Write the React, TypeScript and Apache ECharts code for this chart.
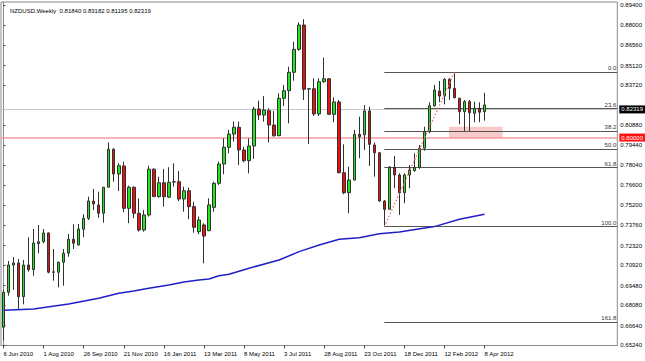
import React, { useEffect, useRef } from "react";
import * as echarts from "echarts";

const TITLE = "NZDUSD,Weekly  0.81840 0.83182 0.81195 0.82319";
const START_UTC = Date.UTC(2010, 5, 6);
const N_SLOTS = 123;
const MONTHS = ["Jan","Feb","Mar","Apr","May","Jun","Jul","Aug","Sep","Oct","Nov","Dec"];
const DATE_LABELS = ["6 Jun 2010","1 Aug 2010","26 Sep 2010","21 Nov 2010","16 Jan 2011","13 Mar 2011","8 May 2011","3 Jul 2011","28 Aug 2011","23 Oct 2011","18 Dec 2011","12 Feb 2012","8 Apr 2012"];
const PRICE_TICKS = [0.894,0.88,0.8656,0.8512,0.8372,0.8088,0.7944,0.7804,0.766,0.752,0.7376,0.7232,0.7092,0.6948,0.6808,0.6664,0.6524];

const OPEN = [0.6652,0.6900,0.7094,0.7109,0.6869,0.7094,0.7061,0.7246,0.7260,0.7322,0.7043,0.7043,0.7114,0.7178,0.7277,0.7237,0.7348,0.7426,0.7549,0.7521,0.7462,0.7647,0.7917,0.7741,0.7798,0.7497,0.7647,0.7462,0.7343,0.7450,0.7775,0.7580,0.7679,0.7576,0.7684,0.7686,0.7563,0.7622,0.7509,0.7331,0.7379,0.7338,0.7504,0.7675,0.7812,0.7931,0.8025,0.8073,0.7912,0.7836,0.7940,0.8203,0.8160,0.8191,0.8089,0.8013,0.8279,0.8333,0.8464,0.8627,0.8800,0.8345,0.8347,0.8168,0.8397,0.8418,0.8165,0.8253,0.7750,0.7608,0.7698,0.8023,0.8020,0.8189,0.7947,0.7892,0.7549,0.7490,0.7789,0.7734,0.7608,0.7734,0.7765,0.7789,0.7924,0.8042,0.8226,0.8331,0.8295,0.8414,0.8350,0.8279,0.8184,0.8255,0.8172,0.8208,0.8184];
const CLOSE = [0.6900,0.7094,0.7109,0.6869,0.7094,0.7061,0.7251,0.7260,0.7322,0.7043,0.7045,0.7114,0.7178,0.7277,0.7249,0.7350,0.7426,0.7549,0.7528,0.7462,0.7647,0.7917,0.7741,0.7800,0.7497,0.7647,0.7462,0.7343,0.7450,0.7775,0.7580,0.7679,0.7580,0.7682,0.7686,0.7563,0.7622,0.7509,0.7362,0.7414,0.7300,0.7521,0.7675,0.7812,0.7931,0.8025,0.8073,0.7912,0.7836,0.7940,0.8203,0.8160,0.8196,0.8089,0.8013,0.8279,0.8333,0.8464,0.8627,0.8800,0.8343,0.8347,0.8168,0.8397,0.8418,0.8165,0.8253,0.7750,0.7608,0.7698,0.8023,0.8006,0.8189,0.7952,0.7892,0.7549,0.7490,0.7789,0.7734,0.7608,0.7734,0.7770,0.7789,0.7924,0.8042,0.8226,0.8338,0.8295,0.8414,0.8350,0.8283,0.8184,0.8255,0.8177,0.8208,0.8180,0.8232];
const LOW = [0.6556,0.6876,0.6917,0.6782,0.6815,0.7047,0.7018,0.7178,0.7249,0.7035,0.6983,0.6936,0.6947,0.7153,0.7208,0.7232,0.7291,0.7414,0.7485,0.7430,0.7395,0.7645,0.7686,0.7620,0.7469,0.7391,0.7426,0.7331,0.7331,0.7438,0.7578,0.7573,0.7509,0.7571,0.7651,0.7549,0.7473,0.7419,0.7324,0.7313,0.7106,0.7336,0.7473,0.7663,0.7739,0.7888,0.7971,0.7805,0.7824,0.7746,0.7848,0.8125,0.8113,0.7966,0.8006,0.8011,0.8224,0.8101,0.8404,0.8617,0.8267,0.7954,0.8153,0.8153,0.8390,0.8160,0.8109,0.7746,0.7597,0.7462,0.7695,0.7853,0.7912,0.7798,0.7722,0.7544,0.7367,0.7489,0.7640,0.7450,0.7533,0.7640,0.7757,0.7777,0.7907,0.8030,0.8219,0.8251,0.8236,0.8267,0.8279,0.8094,0.8047,0.8047,0.8109,0.8109,0.8120];
const HIGH = [0.6917,0.7123,0.7151,0.7137,0.7130,0.7291,0.7350,0.7379,0.7350,0.7325,0.7208,0.7118,0.7208,0.7315,0.7384,0.7386,0.7455,0.7580,0.7635,0.7615,0.7649,0.7966,0.7924,0.7817,0.7829,0.7658,0.7652,0.7568,0.7485,0.7800,0.7782,0.7722,0.7777,0.7789,0.7817,0.7762,0.7651,0.7644,0.7544,0.7438,0.7391,0.7568,0.7686,0.7829,0.7995,0.8054,0.8113,0.8113,0.7935,0.7995,0.8219,0.8262,0.8295,0.8208,0.8189,0.8315,0.8374,0.8504,0.8681,0.8819,0.8841,0.8349,0.8421,0.8421,0.8568,0.8423,0.8286,0.8267,0.7952,0.7793,0.8054,0.8148,0.8231,0.8219,0.7964,0.7897,0.7556,0.7798,0.7869,0.7746,0.7746,0.7805,0.7888,0.7947,0.8077,0.8251,0.8374,0.8402,0.8421,0.8421,0.8464,0.8283,0.8267,0.8267,0.8255,0.8251,0.8318];

// moving average read at selected bars: [bar index, value]
const MA_IDX = [0,6,13,19,23,26,29,33,36,39,41,43,45,49,55,59,63,67,71,75,79,86,91,96];
const MA_VAL = [0.6772,0.6782,0.6817,0.6858,0.6893,0.6910,0.6929,0.6952,0.6974,0.6988,0.6995,0.7018,0.7028,0.7071,0.7130,0.7189,0.7236,0.7277,0.7288,0.7317,0.7329,0.7367,0.7419,0.7455];

const FIB_START_BAR = 76;
const FIB_END_BAR = 90;
const FIB_LOW = 0.7367;
const FIB_HIGH = 0.8464;
const FIB_RATIOS = ["0.0","23.6","38.2","50.0","61.8","100.0","161.8"];
const LAST_PRICE = 0.82319;
const LEVEL_PRICE = 0.8;
const ZONE = { fromBar: 88.9, toBar: 99.6, top: 0.8077, bottom: 0.7995 };

const FONT = "Liberation Sans, Arial, sans-serif";

function fmtDate(ms: number) {
  const d = new Date(ms);
  return d.getUTCDate() + " " + MONTHS[d.getUTCMonth()] + " " + d.getUTCFullYear();
}

export default function App() {
  const ref = useRef<HTMLDivElement>(null);
  useEffect(() => {
    if (!ref.current) return;
    const chart = echarts.init(ref.current, undefined, { renderer: "svg" });
    const cats = Array.from({ length: N_SLOTS }, (_, i) => fmtDate(START_UTC + i * 7 * 86400000));
    const candles = OPEN.map((o, i) => [o, CLOSE[i], LOW[i], HIGH[i]]);
    const ma = MA_IDX.map((b, i) => [b, MA_VAL[i]]);
    const showTick = (i: number) => i % 8 === 0 && i / 8 < DATE_LABELS.length;
    const fibLines = FIB_RATIOS.map((r) => {
      const v = FIB_HIGH - (parseFloat(r) / 100) * (FIB_HIGH - FIB_LOW);
      return [
        { coord: [FIB_START_BAR, v], label: { formatter: r } },
        { coord: [N_SLOTS - 0.5, v] },
      ];
    });
    chart.setOption({
      animation: false,
      backgroundColor: "#ffffff",
      title: {
        text: TITLE,
        left: 5,
        top: 3,
        textStyle: { fontSize: 6, fontWeight: "normal", fontFamily: FONT, color: "#000" },
      },
      grid: {
        left: 1,
        top: 2,
        width: 617.6,
        height: 343.5,
        show: true,
        borderColor: "#8a8a8a",
        borderWidth: 1,
        backgroundColor: "#ffffff",
      },
      xAxis: [
        {
          type: "category",
          data: cats,
          boundaryGap: true,
          axisLine: { show: true, lineStyle: { color: "#8a8a8a" } },
          axisTick: { show: true, interval: (i: number) => showTick(i), alignWithLabel: true, length: 3, lineStyle: { color: "#444" } },
          axisLabel: {
            interval: (i: number) => showTick(i),
            formatter: (_v: string, i: number) => DATE_LABELS[i / 8] || "",
            align: "left",
            fontSize: 6,
            fontFamily: FONT,
            color: "#000",
            margin: 5,
          },
          splitLine: { show: false },
        },
        { type: "value", min: -0.5, max: N_SLOTS - 0.5, show: false },
      ],
      yAxis: {
        type: "value",
        position: "right",
        min: 0.6522,
        max: 0.89635,
        scale: true,
        splitLine: { show: false },
        axisLine: { show: true, lineStyle: { color: "#8a8a8a" } },
        axisTick: { show: true, length: 2, customValues: PRICE_TICKS, lineStyle: { color: "#444" } },
        axisLabel: {
          customValues: PRICE_TICKS,
          formatter: (v: number) => v.toFixed(5),
          fontSize: 6,
          fontFamily: FONT,
          color: "#000",
          margin: 3,
        },
      },
      series: [
        {
          type: "line",
          xAxisIndex: 1,
          data: [],
          silent: true,
          z: 1,
          markArea: {
            silent: true,
            itemStyle: { color: "#f7c9c9" },
            data: [[{ coord: [ZONE.fromBar, ZONE.top] }, { coord: [ZONE.toBar, ZONE.bottom] }]],
          },
          markLine: {
            silent: true,
            symbol: ["none", "none"],
            data: [
              {
                yAxis: LAST_PRICE,
                lineStyle: { color: "#c8c8c8", width: 1, type: "solid" },
                label: {
                  show: true,
                  position: "end",
                  distance: 2,
                  formatter: LAST_PRICE.toFixed(5),
                  backgroundColor: "#000",
                  color: "#fff",
                  fontSize: 6,
                  fontFamily: FONT,
                  padding: [1, 2, 1, 2],
                },
              },
              {
                yAxis: LEVEL_PRICE,
                lineStyle: { color: "#f39b9b", width: 1.5, type: "solid" },
                label: {
                  show: true,
                  position: "end",
                  distance: 2,
                  formatter: LEVEL_PRICE.toFixed(5),
                  backgroundColor: "#ff1010",
                  color: "#fff",
                  fontSize: 6,
                  fontFamily: FONT,
                  padding: [1, 2, 1, 2],
                },
              },
            ],
          },
        },
        {
          type: "line",
          xAxisIndex: 1,
          data: [],
          silent: true,
          z: 2,
          markLine: {
            silent: true,
            symbol: ["none", "none"],
            lineStyle: { color: "#555", width: 1, type: "solid" },
            label: {
              show: true,
              position: "insideEndTop",
              distance: 1,
              fontSize: 6,
              fontFamily: FONT,
              color: "#333",
            },
            data: fibLines,
          },
        },
        {
          type: "candlestick",
          xAxisIndex: 0,
          data: candles,
          barWidth: 3,
          z: 5,
          itemStyle: {
            color: "#1fe81f",
            color0: "#ec1010",
            borderColor: "#303030",
            borderColor0: "#303030",
            borderWidth: 1,
          },
        },
        {
          type: "line",
          xAxisIndex: 1,
          data: [[FIB_START_BAR, FIB_LOW], [FIB_END_BAR, FIB_HIGH]],
          showSymbol: false,
          silent: true,
          z: 6,
          lineStyle: { color: "#f07070", width: 1.3, type: [1.5, 2] },
        },
        {
          type: "line",
          xAxisIndex: 1,
          data: ma,
          showSymbol: false,
          silent: true,
          z: 7,
          lineStyle: { color: "#1f1fc8", width: 1.5 },
        },
      ],
    });
    return () => chart.dispose();
  }, []);
  return (
    <div
      ref={ref}
      style={{ position: "fixed", left: 0, top: 0, width: 645, height: 361, background: "#fff" }}
    />
  );
}
